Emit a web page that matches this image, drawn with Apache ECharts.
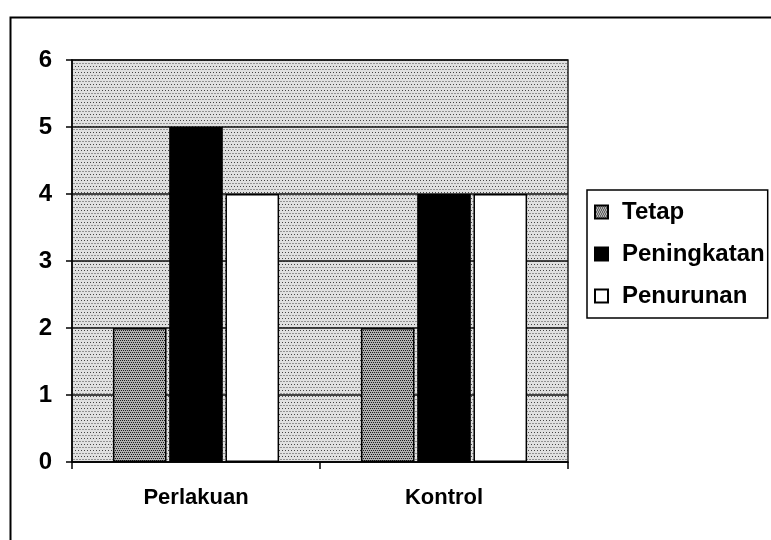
<!DOCTYPE html>
<html><head><meta charset="utf-8">
<script src="https://cdn.jsdelivr.net/npm/echarts@6/dist/echarts.min.js"></script>
<style>html,body{margin:0;padding:0;background:#fff}#c{width:771px;height:540px}</style>
</head><body><div id="c"></div>
<script>
var categories = ['Perlakuan', 'Kontrol'];
var seriesNames = ['Tetap', 'Peningkatan', 'Penurunan'];
var tetap = [2, 2];
var peningkatan = [5, 4];
var penurunan = [4, 4];
var yTicks = [0, 1, 2, 3, 4, 5, 6];

function makePattern(bg, dot, step, size) {
  var c = document.createElement('canvas');
  c.width = 12; c.height = 12;
  var ctx = c.getContext('2d');
  ctx.fillStyle = bg; ctx.fillRect(0, 0, 12, 12);
  ctx.fillStyle = dot;
  for (var y = 0; y < 12; y += step) {
    for (var x = ((y / step) % 2) * (step / 2); x < 12; x += step) {
      ctx.fillRect(x, y, size, size);
    }
  }
  return { image: c, repeat: 'repeat' };
}
var plotPattern = makePattern('#e0e0e0', '#444', 3, 1);
var tetapPattern = makePattern('#b0b0b0', '#1a1a1a', 2, 1);

var chart = echarts.init(document.getElementById('c'), null, { renderer: 'canvas' });
var font = 'Arial, "Liberation Sans", sans-serif';
var option = {
  animation: false,
  backgroundColor: '#fff',
  textStyle: { fontFamily: font },
  graphic: [{
    type: 'rect', left: 8, top: 15,
    shape: { width: 800, height: 560 },
    style: { fill: 'none', stroke: '#000', lineWidth: 2 }, z: -1
  }],
  grid: {
    left: 72, right: 203, top: 60, bottom: 78, show: true,
    backgroundColor: plotPattern, borderWidth: 1.5, borderColor: '#222'
  },
  legend: {
    orient: 'vertical', left: 587, top: 190,
    data: seriesNames,
    itemWidth: 13, itemHeight: 13, itemGap: 18,
    padding: [10, 3, 10, 7],
    borderColor: '#000', borderWidth: 1.5,
    textStyle: { fontSize: 24, fontWeight: 'bold', color: '#000', fontFamily: font, padding: [0, 0, 0, 9] },
    icon: 'rect'
  },
  xAxis: {
    type: 'category', data: categories,
    axisLine: { lineStyle: { color: '#000', width: 1.5 } },
    axisTick: { show: true, length: 7, lineStyle: { color: '#000', width: 1.5 } },
    axisLabel: { fontSize: 22, fontWeight: 'bold', color: '#000', margin: 25, fontFamily: font }
  },
  yAxis: {
    type: 'value', min: 0, max: 6, interval: 1,
    axisLine: { show: true, lineStyle: { color: '#000', width: 1.5 } },
    axisTick: { show: true, length: 6, lineStyle: { color: '#000', width: 1.5 } },
    axisLabel: { fontSize: 24, fontWeight: 'bold', color: '#000', margin: 20, fontFamily: font,
      formatter: function (v) { return yTicks.indexOf(v) >= 0 ? String(v) : ''; } },
    splitLine: { show: true, lineStyle: { color: '#111', width: 1.5 } }
  },
  series: [
    { name: seriesNames[0], type: 'bar', data: tetap, barGap: '5%', barCategoryGap: '33%',
      itemStyle: { color: tetapPattern, borderColor: '#000', borderWidth: 1.5 } },
    { name: seriesNames[1], type: 'bar', data: peningkatan,
      itemStyle: { color: '#000', borderColor: '#000', borderWidth: 1.5 } },
    { name: seriesNames[2], type: 'bar', data: penurunan,
      itemStyle: { color: '#fff', borderColor: '#000', borderWidth: 1.5 } }
  ]
};
chart.setOption(option);
</script></body></html>
